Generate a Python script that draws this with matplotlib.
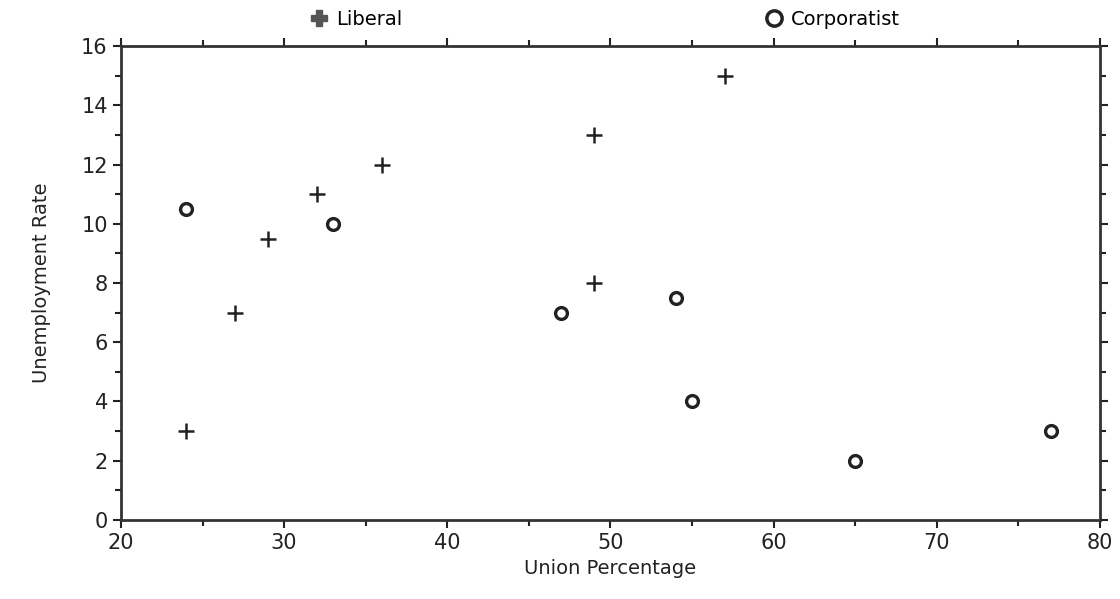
import numpy as np
import matplotlib.pyplot as plt
from matplotlib.lines import Line2D
from matplotlib.ticker import MultipleLocator

# union density vs unemployment, by regime type
liberal_x = [24, 27, 29, 32, 36, 49, 49, 57]
liberal_y = [3, 7, 9.5, 11, 12, 8, 13, 15]
corp_x = [24, 33, 47, 54, 55, 65, 77]
corp_y = [10.5, 10, 7, 7.5, 4, 2, 3]

plt.rcParams['font.family'] = ['DejaVu Sans']

fig = plt.figure(figsize=(11.2, 5.99), dpi=100)
ax = fig.add_axes([0.108, 0.132, 0.874, 0.791])

ax.plot(liberal_x, liberal_y, ls='none', marker='+', ms=12, mew=1.8, color='#222222')
ax.plot(corp_x, corp_y, ls='none', marker='o', ms=8.5, mew=2.4, mfc='white', mec='#222222')

ax.set_xlim(20, 80)
ax.set_ylim(0, 16)
ax.xaxis.set_major_locator(MultipleLocator(10))
ax.xaxis.set_minor_locator(MultipleLocator(5))
ax.yaxis.set_major_locator(MultipleLocator(2))
ax.yaxis.set_minor_locator(MultipleLocator(1))
ax.tick_params(which='both', direction='out', top=True, right=True, color='#222222', width=1.5)
ax.tick_params(which='major', length=6, labelsize=15, colors='#222222')
ax.tick_params(which='minor', length=4)
for s in ax.spines.values():
    s.set_linewidth(2)
    s.set_color('#333333')

ax.set_xlabel('Union Percentage', fontsize=14, color='#222222', labelpad=4)
ax.set_ylabel('Unemployment Rate', fontsize=14, color='#222222', labelpad=22)

h1 = Line2D([], [], ls='none', marker='P', ms=12, color='#555555')
h2 = Line2D([], [], ls='none', marker='o', ms=11, mew=2.5, mfc='white', mec='#222222')
leg1 = ax.legend([h1], ['Liberal'], loc='lower left', bbox_to_anchor=(0.182, 1.02),
                 frameon=False, fontsize=14, handletextpad=0.3, handlelength=1.2,
                 borderaxespad=0)
ax.add_artist(leg1)
ax.legend([h2], ['Corporatist'], loc='lower left', bbox_to_anchor=(0.647, 1.02),
          frameon=False, fontsize=14, handletextpad=0.3, handlelength=1.2,
          borderaxespad=0)

fig.savefig('out.png', dpi=100)
